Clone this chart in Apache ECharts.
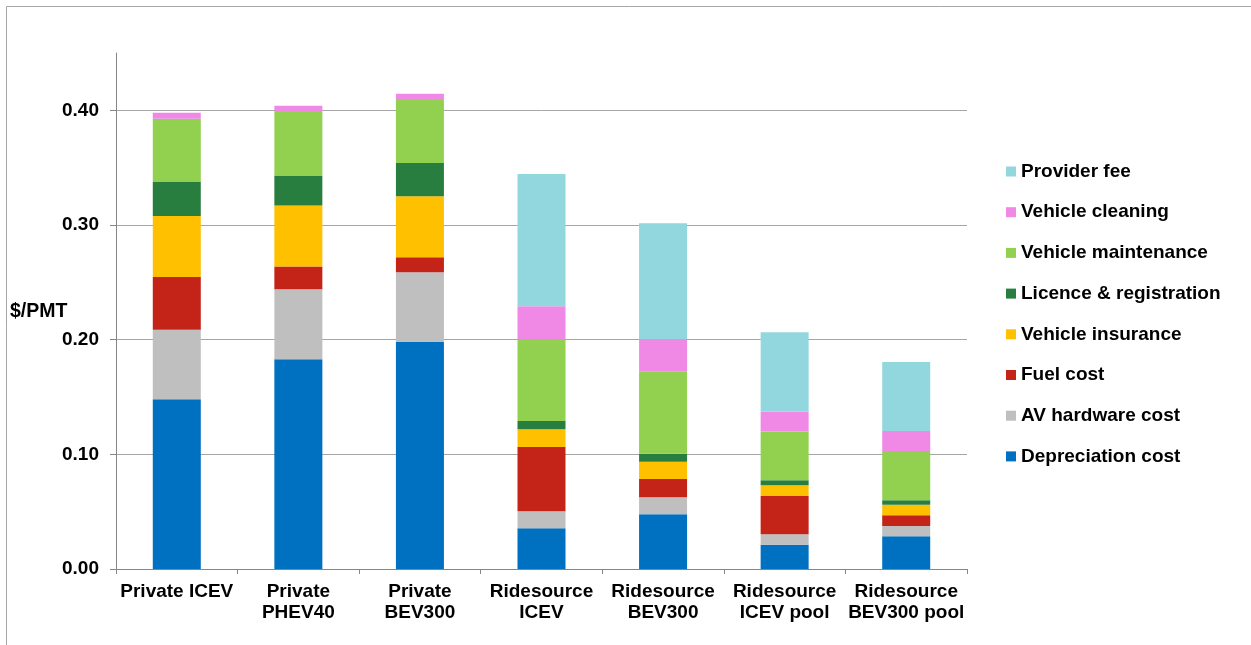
<!DOCTYPE html>
<html>
<head>
<meta charset="utf-8">
<script src="https://cdn.jsdelivr.net/npm/echarts@6/dist/echarts.min.js"></script>
<style>
html,body{margin:0;padding:0;background:#fff;}
#chart{width:1251px;height:645px;}
</style>
</head>
<body>
<div id="chart"></div>
<script>
const categories = ['Private ICEV','Private\nPHEV40','Private\nBEV300','Ridesource\nICEV','Ridesource\nBEV300','Ridesource\nICEV pool','Ridesource\nBEV300 pool'];
const yTicks = [0, 0.1, 0.2, 0.3, 0.4];
const yAxisTitle = '$/PMT';

const depreciation = [0.148, 0.183, 0.198, 0.0355, 0.0477, 0.0212, 0.0285];
const avHardware   = [0.0607, 0.061, 0.0607, 0.0148, 0.0148, 0.009, 0.009];
const fuel         = [0.046, 0.0198, 0.0131, 0.0561, 0.016, 0.0335, 0.0093];
const insurance    = [0.0531, 0.0532, 0.0532, 0.0154, 0.0151, 0.0093, 0.0093];
const licence      = [0.0297, 0.0261, 0.0291, 0.0073, 0.007, 0.0043, 0.0038];
const maintenance  = [0.0552, 0.0555, 0.0549, 0.0712, 0.0715, 0.0427, 0.043];
const cleaning     = [0.0053, 0.0053, 0.0055, 0.0288, 0.0285, 0.0172, 0.0174];
const providerFee  = [0, 0, 0, 0.1154, 0.1009, 0.0692, 0.0602];

const seriesDefs = [
  {name:'Depreciation cost', data:depreciation, color:'#0070C0'},
  {name:'AV hardware cost', data:avHardware, color:'#BFBFBF'},
  {name:'Fuel cost', data:fuel, color:'#C42318'},
  {name:'Vehicle insurance', data:insurance, color:'#FFC000'},
  {name:'Licence & registration', data:licence, color:'#287E3E'},
  {name:'Vehicle maintenance', data:maintenance, color:'#92D050'},
  {name:'Vehicle cleaning', data:cleaning, color:'#F089E6'},
  {name:'Provider fee', data:providerFee, color:'#92D7DE'}
];

const FONT = '"Liberation Sans", Arial, sans-serif';
const chart = echarts.init(document.getElementById('chart'), null, {renderer:'canvas'});
chart.setOption({
  animation: false,
  backgroundColor: '#fff',
  graphic: [{
    type: 'rect', shape: {x: 6.5, y: 6.5, width: 1300, height: 700},
    style: {fill: 'none', stroke: '#A6A6A6', lineWidth: 1}, silent: true, z: -10
  }, {
    type: 'text', left: 10, top: 302, silent: true,
    style: {text: yAxisTitle, fontFamily: FONT, fontWeight: 'bold', fontSize: 19.5, fill: '#000'}
  }],
  grid: {left: 116, right: 284, top: 53, bottom: 76, containLabel: false, outerBoundsMode: 'none'},
  legend: {
    orient: 'vertical', left: 1006, top: 162, padding: 0,
    itemWidth: 10, itemHeight: 10, itemGap: 21.7,
    icon: 'rect',
    data: seriesDefs.map(s => s.name).reverse(),
    textStyle: {fontFamily: FONT, fontWeight: 'bold', fontSize: 19, color: '#000', padding: [0,0,0,0]}
  },
  xAxis: {
    type: 'category', data: categories,
    axisLine: {lineStyle: {color: '#868686', width: 1}},
    axisTick: {show: true, alignWithLabel: false, length: 5, lineStyle: {color: '#868686'}},
    axisLabel: {interval: 0, margin: 12, fontFamily: FONT, fontWeight: 'bold', fontSize: 19, color: '#000', lineHeight: 21}
  },
  yAxis: {
    type: 'value', min: 0, max: 0.45, interval: 0.1,
    axisLine: {show: true, lineStyle: {color: '#868686', width: 1}},
    axisTick: {show: true, length: 6, lineStyle: {color: '#868686'}, customValues: yTicks},
    axisLabel: {margin: 17, fontFamily: FONT, fontWeight: 'bold', fontSize: 19, color: '#000',
      customValues: yTicks, formatter: v => v.toFixed(2)},
    splitLine: {show: true, lineStyle: {color: '#A6A6A6', width: 1}}
  },
  series: seriesDefs.map(s => ({
    name: s.name, type: 'bar', stack: 'cost', barWidth: 48,
    data: s.data,
    itemStyle: {color: s.color}
  }))
});
</script>
</body>
</html>
